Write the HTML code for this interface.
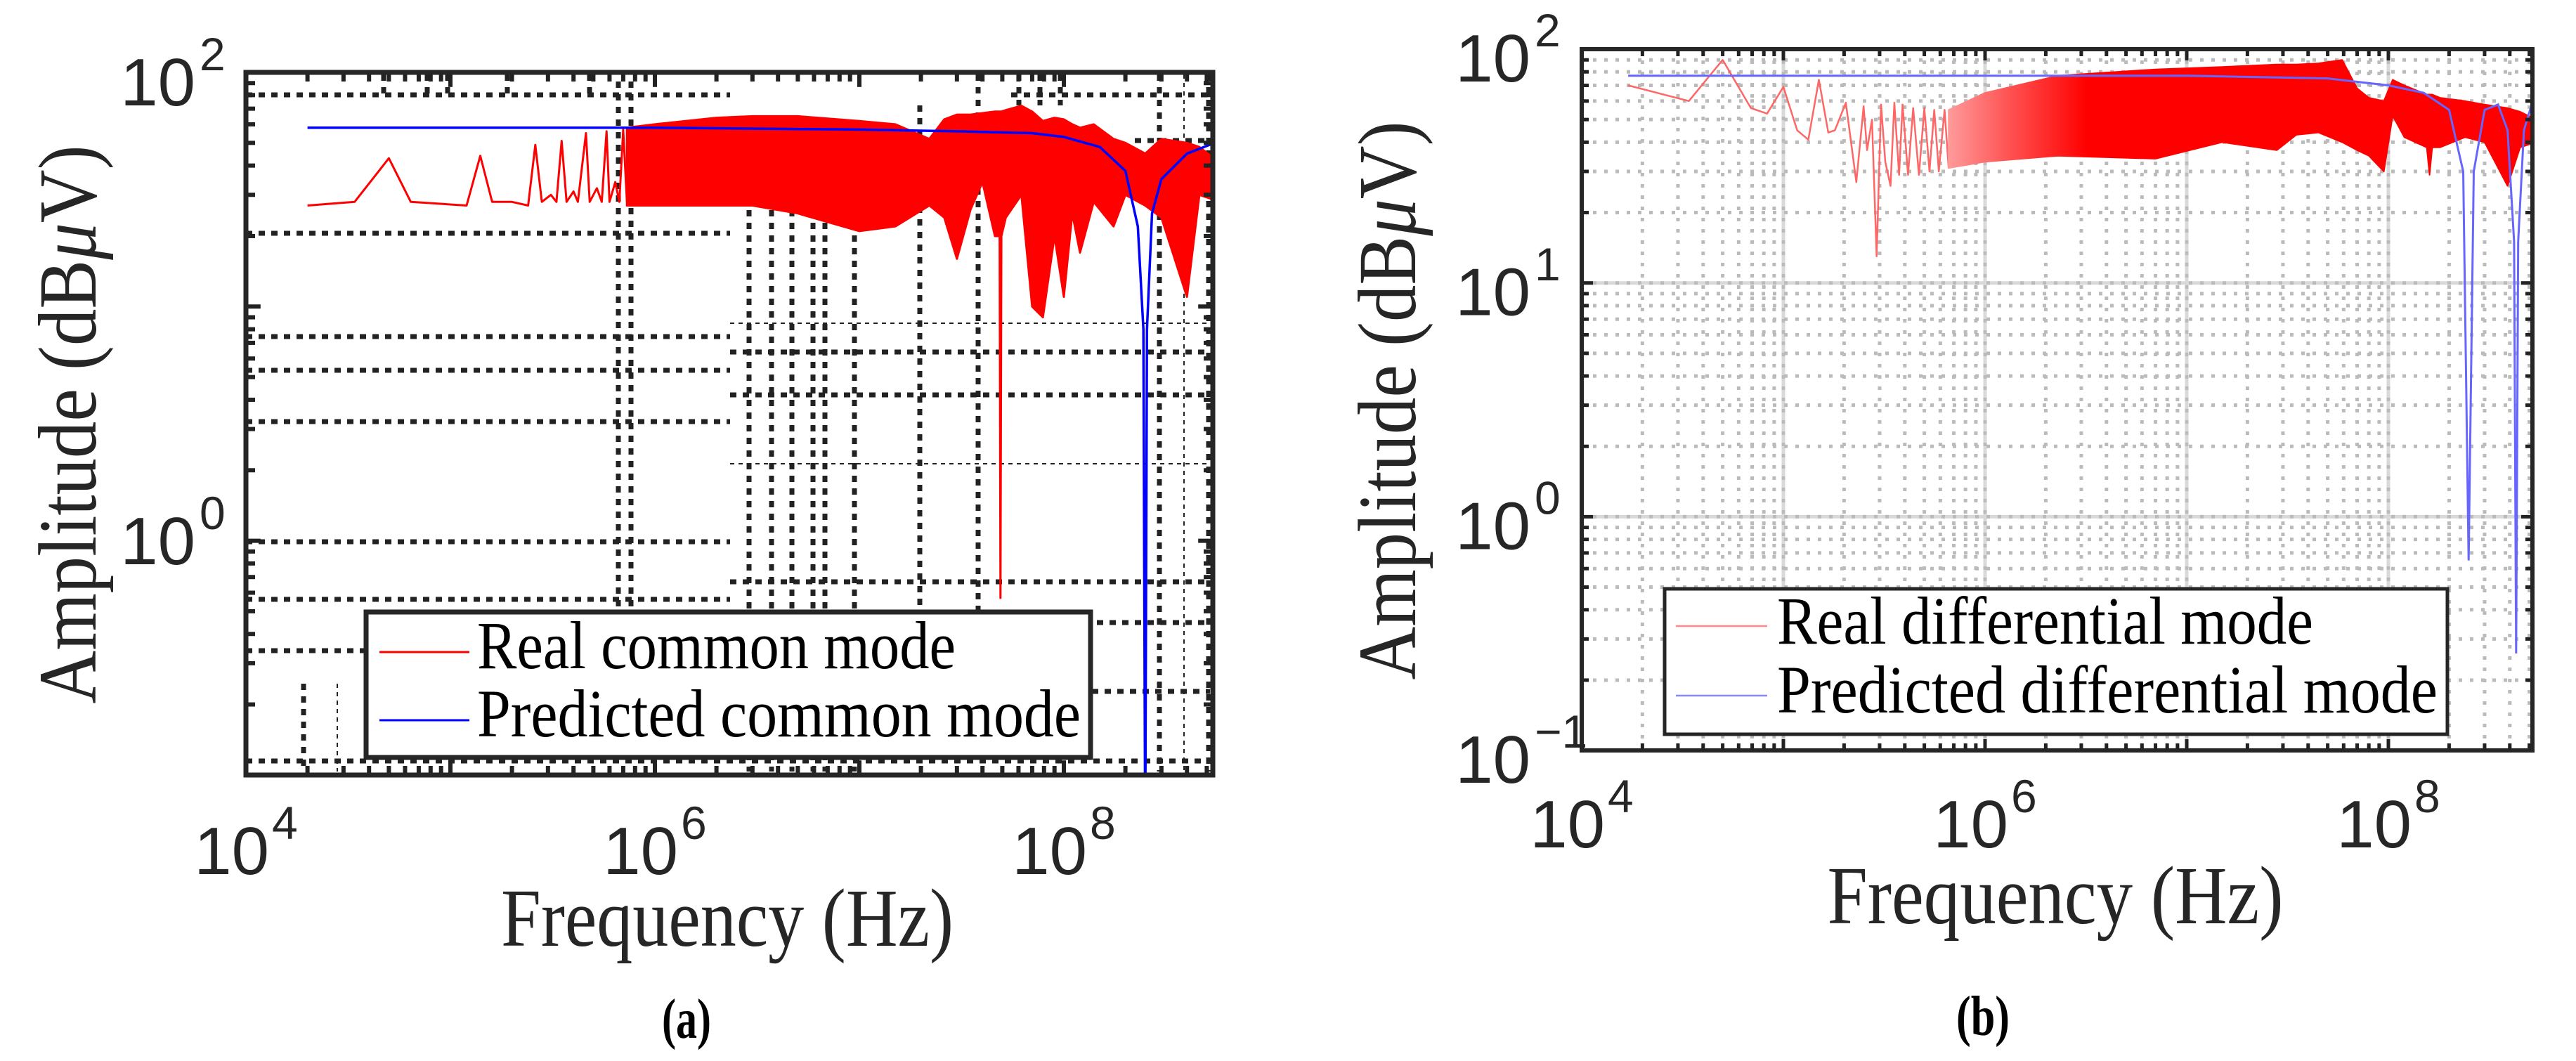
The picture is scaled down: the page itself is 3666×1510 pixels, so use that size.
<!DOCTYPE html>
<html><head><meta charset="utf-8"><style>
html,body{margin:0;padding:0;background:#fff;}
svg{display:block;}
</style></head><body>
<svg id="fig" width="3666" height="1510" viewBox="0 0 3666 1510" xmlns="http://www.w3.org/2000/svg">
<defs id="defs">
<clipPath id="clipA"><rect x="350" y="103" width="1376" height="1000"/></clipPath>
<clipPath id="clipB"><rect x="2251" y="70" width="1353" height="998"/></clipPath>
</defs>
<g id="chartA"></g>
<g id="chartB"></g>
</svg>
<script>
// ---------- Chart A data (common mode) ----------
const aCombFreq = [2e4,3.4e4,5e4,6.4e4,1.2e5,1.4e5,1.6e5,2e5,2.4e5,2.6e5,2.8e5,3.1e5,3.3e5,3.5e5,3.7e5,4e5,4.2e5,4.6e5,4.8e5,5.2e5,5.5e5,5.8e5,6e5,6.4e5,6.7e5,7e5,7.3e5];
const aCombAmp  = [27,28,43,28,27,44,28,28,27,49,28,30,28,51,28,31,28,55,28,32,28,56,28,34,28,57,28];
const aEnvFreq = [7.3e5,1e6,2e6,3e6,5e6,1e7,1.5e7,2.2e7,2.6e7,3e7,3.5e7,4e7,4.6e7,4.85e7,4.9e7,4.95e7,5.2e7,6.2e7,7e7,7.9e7,9e7,1e8,1.1e8,1.2e8,1.4e8,1.75e8,2e8,2.5e8,3e8,4e8,4.6e8,5.8e8];
const aEnvHigh = [58,60,64,65,65,62,60,52,63,66,66,67,68,68,68,68,69,72,68,62,64,63,60,58,60,52,50,45,52,50,48,41];
const aEnvLow  = [27,27,27,27,25,21,22,27,24,16,26,34,20,20,0.57,20,24,30,10,9,20,11,25,17,28,22,30,27,24,11,30,28];
const aPredFreq = [2e4,1e6,1e7,3e7,7e7,1e8,1.5e8,2e8,2.3e8,2.45e8,2.5e8,2.55e8,2.7e8,3e8,4e8,5.8e8];
const aPredAmp  = [58,58,57,56,55,53,48,38,22,8,0.05,8,25,35,45,51];
const aYTicks = [2,0];
const aXTicks = [4,6,8];

// ---------- Chart B data (differential mode) ----------
const bCombFreq = [1.7e4,3.4e4,5e4,6.9e4,8.3e4,1e5,1.17e5,1.33e5,1.5e5,1.67e5,1.8e5,2.04e5,2.3e5,2.5e5,2.6e5,2.75e5,2.9e5,3.05e5,3.2e5,3.4e5,3.55e5,3.75e5,3.9e5,4.15e5,4.4e5,4.7e5,5e5,5.3e5,5.6e5,5.9e5,6.3e5,6.6e5];
const bCombAmp  = [70,60,90,56,53,69,45,41,74,44,45,59,27,57,37,50,13,58,33,26,59,29,58,29,56,29,56,30,55,30,55,31];
const bEnvFreq = [6.6e5,1e6,2.3e6,7e6,1.5e7,2.8e7,3.5e7,4.5e7,5.9e7,7e7,8e7,9.5e7,1.05e8,1.2e8,1.55e8,1.6e8,1.65e8,1.8e8,2.4e8,3e8,3.9e8,4.5e8,5.4e8];
const bEnvHigh = [55,65,77,82,84,86,86,87,90,68,62,60,74,70,64,64,64,62,60,58,56,54,50];
const bEnvLow  = [31,33,35,34,40,37,43,44,40,37,35,30,52,42,38,29,38,38,42,40,26,38,40];
const bPredFreq = [1.7e4,1e7,5e7,1e8,1.5e8,2e8,2.35e8,2.5e8,2.65e8,3e8,3.5e8,3.9e8,4.2e8,4.3e8,4.4e8,4.7e8,5.4e8];
const bPredAmp  = [77,77,75,70,65,55,30,0.65,30,55,58,45,15,0.26,15,45,67];
const bYTicks = [2,1,0,-1];
const bXTicks = [4,6,8];

const NS = 'http://www.w3.org/2000/svg';
function mk(tag, attrs, parent){
  const e = document.createElementNS(NS, tag);
  for (const k in attrs) e.setAttribute(k, attrs[k]);
  if (parent) parent.appendChild(e);
  return e;
}
function makeAxes(x0, y0, w, h, xmin, xdec, ymax, ydec){
  return {
    x: f => x0 + (Math.log10(f) - xmin) * xdec,
    y: a => y0 + (ymax - Math.log10(a)) * ydec,
    x0, y0, w, h
  };
}
const A = makeAxes(350, 103, 1376, 1000, 4, 291, 2, 333.3);
const B = makeAxes(2251, 70, 1353, 998, 4, 287, 2, 332.7);

function ptsLine(ax, fs, as){ return fs.map((f,i)=>ax.x(f).toFixed(1)+','+ax.y(as[i]).toFixed(1)).join(' '); }
function envPoly(ax, fs, hi, lo){
  const top = fs.map((f,i)=>ax.x(f).toFixed(1)+','+ax.y(hi[i]).toFixed(1));
  const bot = fs.map((f,i)=>ax.x(f).toFixed(1)+','+ax.y(lo[i]).toFixed(1)).reverse();
  return top.concat(bot).join(' ');
}

const TF = 96, SF = 66;

// ================= Chart A =================
const gA = document.getElementById('chartA');
const aHSeg = [[135,350,1039,1],[135,1439,1722,1],[200,1615,1722,1],[332,350,1039,1],[479,350,1039,1],[460,1039,1722,0],[501,1039,1722,1],[527,350,1039,1],[562,1039,1722,1],[600,350,1039,1],[660,1039,1722,0],[771,350,1039,1],[828,1039,1722,1],[853,350,1039,1],[886,1039,1722,1],[926,350,521,1],[984,1554,1722,1],[1083,350,1722,1]];
const aVSeg = [[432,973,1098,1],[480,973,1098,0],[546,106,140,1],[608,106,140,1],[637,106,140,1],[722,106,140,1],[839,106,140,1],[880,116,872,1],[898,116,872,1],[1066,299,1098,1],[1098,299,1098,1],[1127,299,1098,1],[1157,299,1098,1],[1174,299,1098,1],[1216,299,1098,1],[1309,150,872,1],[1392,106,872,1],[1450,106,150,1],[1480,106,150,1],[1509,106,150,1],[1650,106,1098,1],[1685,106,1098,0],[1720,106,1098,1]];
const gridA = mk('g', {}, gA);


aHSeg.forEach(s=>{ mk('line',{x1:s[1],x2:s[2],y1:s[0],y2:s[0],stroke:'#222','stroke-width':s[3]?7:2,'stroke-dasharray':s[3]?'9 9':'6 6'},gridA); });
aVSeg.forEach(s=>{ mk('line',{x1:s[0],x2:s[0],y1:s[1],y2:s[2],stroke:'#222','stroke-width':s[3]?7:2,'stroke-dasharray':s[3]?'9 9':'6 6'},gridA); });

const dataA = mk('g', {'clip-path':'url(#clipA)'}, gA);
const realA = mk('g', {}, dataA);


mk('polyline',{points:ptsLine(A,aCombFreq,aCombAmp),fill:'none',stroke:'#f00','stroke-width':3,'stroke-linejoin':'round'},realA);
mk('polygon',{points:envPoly(A,aEnvFreq,aEnvHigh,aEnvLow),fill:'#f00',stroke:'#f00','stroke-width':3,'stroke-linejoin':'round'},realA);
const predA = mk('polyline',{points:ptsLine(A,aPredFreq,aPredAmp),fill:'none',stroke:'#00f','stroke-width':3.5},dataA);



function ticks(g, ax, ymin, ymax, xmin, xmax, len, w){
  for (let d=Math.floor(xmin); d<=xmax; d++){
    for (let m=1;m<=9;m++){
      const lv = d+Math.log10(m); if (lv<xmin||lv>xmax) continue;
      const x = ax.x(Math.pow(10,lv)); const L = m===1?len*1.6:len;
      mk('line',{x1:x,x2:x,y1:ax.y0+ax.h,y2:ax.y0+ax.h-L,stroke:'#222','stroke-width':w},g);
      mk('line',{x1:x,x2:x,y1:ax.y0,y2:ax.y0+L,stroke:'#222','stroke-width':w},g);
    }
  }
  for (let d=Math.floor(ymin); d<=ymax; d++){
    for (let m=1;m<=9;m++){
      const lv = d+Math.log10(m); if (lv<ymin||lv>ymax) continue;
      const y = ax.y(Math.pow(10,lv)); const L = m===1?len*1.6:len;
      mk('line',{x1:ax.x0,x2:ax.x0+L,y1:y,y2:y,stroke:'#222','stroke-width':w},g);
      mk('line',{x1:ax.x0+ax.w,x2:ax.x0+ax.w-L,y1:y,y2:y,stroke:'#222','stroke-width':w},g);
    }
  }
}
const tickA = mk('g', {}, gA);


ticks(tickA, A, -1, 2, 4, 8.73, 13, 6);
const boxA = mk('rect',{x:350,y:103,width:1376,height:1000,fill:'none',stroke:'#262626','stroke-width':7},gA);



function tickLabel(g, cx, base, exp, anchorMode, fs, ss){
  const t = mk('g', {}, g);
  
  
  let mainX, supX;
  const mainW = fs*1.112, supW = ss*0.556*String(exp).length;
  if (anchorMode==='center'){ const tot = mainW + 4 + supW; mainX = cx - tot/2; supX = mainX + mainW + 4; }
  else { mainX = cx - mainW; supX = cx + 6; }
  const m = mk('text',{x:mainX,y:base,'font-family':'Liberation Sans, sans-serif','font-size':fs,fill:'#262626'},t); m.textContent='10';
  const s = mk('text',{x:supX,y:base-fs*0.52,'font-family':'Liberation Sans, sans-serif','font-size':ss,fill:'#262626'},t); s.textContent=String(exp).replace('-','\u2212');
}
const aYBase = {2:150, 0:803};
aYTicks.forEach(e=>tickLabel(gA, 278, aYBase[e], e, 'end', TF, SF));
aXTicks.forEach(e=>tickLabel(gA, A.x(Math.pow(10,e)), 1244, e, 'center', TF, SF));

function txt(g, name, attrs, content, html){
  const t = mk('text', attrs, g);
  
  
  if (html) t.innerHTML = content; else t.textContent = content;
  return t;
}
txt(gA,'y-axis-title',{x:0,y:0,transform:'translate(136,604) rotate(-90)','text-anchor':'middle','font-family':'Liberation Serif, serif','font-size':118,fill:'#262626',textLength:795,lengthAdjust:'spacingAndGlyphs'},'Amplitude (dB<tspan font-style="italic">μ</tspan>V)',true);
txt(gA,'x-axis-title',{x:1035,y:1346,'text-anchor':'middle','font-family':'Liberation Serif, serif','font-size':118,fill:'#262626',textLength:644,lengthAdjust:'spacingAndGlyphs'},'Frequency (Hz)');
txt(gA,'panel-label-a',{x:977,y:1477,'text-anchor':'middle','font-family':'Liberation Serif, serif','font-size':80,'font-weight':'bold',fill:'#000',textLength:70,lengthAdjust:'spacingAndGlyphs'},'(a)');

const legA = mk('g', {}, gA);


mk('rect',{x:521,y:871,width:1031,height:207,fill:'#fff',stroke:'#262626','stroke-width':7},legA);
mk('line',{x1:540,x2:668,y1:928,y2:928,stroke:'#f00','stroke-width':3},legA);
mk('line',{x1:540,x2:668,y1:1025,y2:1025,stroke:'#00f','stroke-width':3},legA);
txt(legA,'legend-entry-real',{x:679,y:951,'font-family':'Liberation Serif, serif','font-size':96,fill:'#000',textLength:681,lengthAdjust:'spacingAndGlyphs'},'Real common mode');
txt(legA,'legend-entry-predicted',{x:679,y:1048,'font-family':'Liberation Serif, serif','font-size':96,fill:'#000',textLength:859,lengthAdjust:'spacingAndGlyphs'},'Predicted common mode');

// ================= Chart B =================
const gB = document.getElementById('chartB');
const defs = document.getElementById('defs');
const grad = mk('linearGradient',{id:'fadeB',gradientUnits:'userSpaceOnUse',x1:B.x(6.6e5),x2:B.x(3.2e6),y1:0,y2:0},defs);
mk('stop',{offset:'0','stop-color':'#ff9a9a'},grad);
mk('stop',{offset:'0.45','stop-color':'#ff5050'},grad);
mk('stop',{offset:'1','stop-color':'#ff0000'},grad);

const gridB = mk('g', {}, gB);


for (let d=4; d<=8; d++){
  for (let m=1;m<=9;m++){
    const lv=d+Math.log10(m); if (lv>8.73) continue;
    const x=B.x(Math.pow(10,lv));
    if (m===1 && d>4) mk('line',{x1:x,x2:x,y1:70,y2:1068,stroke:'#d9d9d9','stroke-width':5},gridB);
    mk('line',{x1:x,x2:x,y1:70,y2:1068,stroke:'#bbb','stroke-width':5,'stroke-dasharray':'5 11'},gridB);
  }
}
for (let d=-1; d<=2; d++){
  for (let m=1;m<=9;m++){
    const lv=d+Math.log10(m); if (lv>2) continue;
    const y=B.y(Math.pow(10,lv));
    if (m===1 && d>-1 && d<2) mk('line',{x1:2251,x2:3604,y1:y,y2:y,stroke:'#d9d9d9','stroke-width':5},gridB);
    mk('line',{x1:2251,x2:3604,y1:y,y2:y,stroke:'#bbb','stroke-width':5,'stroke-dasharray':'5 11'},gridB);
  }
}
const dataB = mk('g', {'clip-path':'url(#clipB)'}, gB);
const realB = mk('g', {}, dataB);


mk('polyline',{points:ptsLine(B,bCombFreq,bCombAmp),fill:'none',stroke:'#f66','stroke-width':2.5,'stroke-linejoin':'round'},realB);
mk('polygon',{points:envPoly(B,bEnvFreq,bEnvHigh,bEnvLow),fill:'url(#fadeB)',stroke:'url(#fadeB)','stroke-width':2,'stroke-linejoin':'round'},realB);
const predB = mk('polyline',{points:ptsLine(B,bPredFreq,bPredAmp),fill:'none',stroke:'#66f','stroke-width':3},dataB);



const tickB = mk('g', {}, gB);


ticks(tickB, B, -1, 2, 4, 8.73, 10, 5);
const boxB = mk('rect',{x:2251,y:70,width:1353,height:998,fill:'none',stroke:'#262626','stroke-width':6},gB);



bYTicks.forEach(e=>tickLabel(gB, 2178, B.y(Math.pow(10,e))+46, e, 'end', TF, SF));
bXTicks.forEach(e=>tickLabel(gB, B.x(Math.pow(10,e)), 1206, e, 'center', TF, SF));

txt(gB,'y-axis-title',{x:0,y:0,transform:'translate(2014,570) rotate(-90)','text-anchor':'middle','font-family':'Liberation Serif, serif','font-size':118,fill:'#262626',textLength:795,lengthAdjust:'spacingAndGlyphs'},'Amplitude (dB<tspan font-style="italic">μ</tspan>V)',true);
txt(gB,'x-axis-title',{x:2925,y:1314,'text-anchor':'middle','font-family':'Liberation Serif, serif','font-size':118,fill:'#262626',textLength:649,lengthAdjust:'spacingAndGlyphs'},'Frequency (Hz)');
txt(gB,'panel-label-b',{x:2822,y:1473,'text-anchor':'middle','font-family':'Liberation Serif, serif','font-size':80,'font-weight':'bold',fill:'#000',textLength:76,lengthAdjust:'spacingAndGlyphs'},'(b)');

const legB = mk('g', {}, gB);


mk('rect',{x:2369,y:838,width:1114,height:207,fill:'#fff',stroke:'#262626','stroke-width':5},legB);
mk('line',{x1:2385,x2:2515,y1:891,y2:891,stroke:'#f88','stroke-width':2.5},legB);
mk('line',{x1:2385,x2:2515,y1:990,y2:990,stroke:'#88f','stroke-width':2.5},legB);
txt(legB,'legend-entry-real',{x:2529,y:916,'font-family':'Liberation Serif, serif','font-size':96,fill:'#000',textLength:763,lengthAdjust:'spacingAndGlyphs'},'Real differential mode');
txt(legB,'legend-entry-predicted',{x:2529,y:1014,'font-family':'Liberation Serif, serif','font-size':96,fill:'#000',textLength:940,lengthAdjust:'spacingAndGlyphs'},'Predicted differential mode');
</script>
</body></html>
